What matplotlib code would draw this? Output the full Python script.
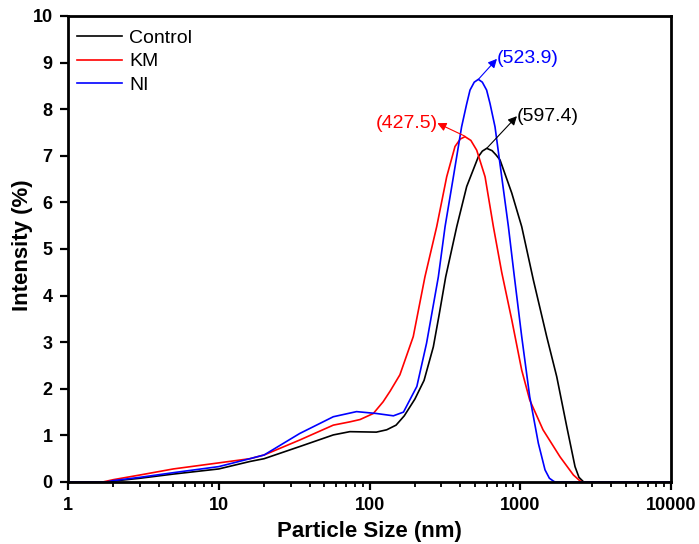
"""Particle size distribution (DLS intensity) for Control, KM and NI samples."""

import matplotlib

matplotlib.use("Agg")
import matplotlib.pyplot as plt

# Values (size in nm, intensity in %)
control_size = [1, 1.9, 2, 3, 5, 10, 16.1, 20, 34.4, 57.5, 74, 111, 130, 150, 170, 200, 230, 265,
                290, 320, 379, 441, 527, 560, 599, 650, 690, 734, 878, 1022, 1222, 1497, 1745,
                2033, 2307, 2450, 2633, 10000]
control_intensity = [0, 0, 0.02, 0.08, 0.17, 0.28, 0.44, 0.5, 0.76, 1.01, 1.08, 1.07, 1.12, 1.22,
                     1.42, 1.78, 2.18, 2.9, 3.6, 4.4, 5.48, 6.34, 6.98, 7.1, 7.16, 7.11, 7.02, 6.91,
                     6.2, 5.48, 4.33, 3.12, 2.26, 1.19, 0.33, 0.1, 0, 0]

km_size = [1, 1.7, 2, 3, 5, 10, 16.1, 20, 34.4, 57.5, 74, 86.5, 106, 123, 137, 159, 195, 233,
           279, 325, 369, 400, 430, 470, 514, 584, 663, 753, 878, 1022, 1155, 1415, 1835, 2251,
           2496, 2600, 10000]
km_intensity = [0, 0, 0.05, 0.15, 0.28, 0.41, 0.5, 0.58, 0.9, 1.22, 1.29, 1.34, 1.47, 1.72, 1.95,
                2.3, 3.12, 4.4, 5.48, 6.55, 7.2, 7.36, 7.41, 7.33, 7.12, 6.55, 5.48, 4.5, 3.48,
                2.4, 1.76, 1.12, 0.54, 0.15, 0.02, 0, 0]

ni_size = [1, 1.8, 2, 3, 5, 10, 16.1, 20, 34.4, 57.5, 82, 111, 144, 168, 206, 239, 286, 317, 360,
           408, 440, 464, 495, 527, 560, 598, 630, 680, 753, 834, 910, 1022, 1155, 1318, 1459,
           1560, 1657, 1700, 10000]
ni_intensity = [0, 0, 0.03, 0.1, 0.2, 0.33, 0.5, 0.58, 1.04, 1.4, 1.51, 1.47, 1.42, 1.5, 2.05,
                2.98, 4.4, 5.48, 6.55, 7.62, 8.1, 8.41, 8.58, 8.64, 8.58, 8.41, 8.12, 7.62, 6.55,
                5.48, 4.45, 3.12, 1.83, 0.83, 0.26, 0.08, 0.02, 0, 0]

# peak labels: text, peak point, arrow head / text anchor, colour, alignment
peak_labels = [
    ("(597.4)", (599, 7.16), (950, 7.85), "black", "left"),
    ("(427.5)", (430, 7.42), (282, 7.7), "red", "right"),
    ("(523.9)", (527, 8.64), (700, 9.08), "blue", "left"),
]

x_major = [1, 10, 100, 1000, 10000]
x_minor = [m * d for d in x_major[:-1] for m in range(2, 10)]

plt.rcParams["font.family"] = ["Liberation Sans", "DejaVu Sans"]

figure = plt.figure(figsize=(6.99, 5.44), dpi=100)
axis = figure.add_axes([0.0973, 0.114, 0.8627, 0.8566])

axis.plot(control_size, control_intensity, color="black", linewidth=1.2, label="Control")
axis.plot(km_size, km_intensity, color="red", linewidth=1.2, label="KM")
axis.plot(ni_size, ni_intensity, color="blue", linewidth=1.2, label="NI")

for text, peak, anchor, color, align in peak_labels:
    axis.annotate("", xy=anchor, xytext=peak,
                  arrowprops=dict(arrowstyle="-|>", color=color, lw=0.8, mutation_scale=13,
                                  shrinkA=0, shrinkB=0))
    axis.text(anchor[0], anchor[1], text, color=color, fontsize=14, ha=align, va="center")

axis.set_xscale("log")
axis.set_xlim(1, 10000)
axis.set_ylim(0, 10)
axis.set_yticks(range(0, 11))
axis.set_xticks(x_major)
axis.set_xticklabels([str(v) for v in x_major])
axis.set_xticks(x_minor, minor=True)
axis.set_xticklabels([], minor=True)
axis.tick_params(axis="both", which="major", direction="out", length=6, width=1.6,
                 labelsize=13, pad=5, top=False, right=False)
axis.tick_params(axis="x", which="minor", direction="out", length=3.5, width=1.3,
                 bottom=True, top=False, color="black")
for label in axis.get_xticklabels() + axis.get_yticklabels():
    label.set_fontweight("bold")
for spine in axis.spines.values():
    spine.set_linewidth(2)

axis.set_xlabel("Particle Size (nm)", fontsize=16, fontweight="bold")
axis.set_ylabel("Intensity (%)", fontsize=16, fontweight="bold", va="center")
axis.xaxis.set_label_coords(0.5, -0.083)
axis.yaxis.set_label_coords(-0.075, 0.509)
axis.legend(loc="upper left", bbox_to_anchor=(0, 0.99), frameon=False, fontsize=14,
            handlelength=2.35, labelspacing=0.3, borderaxespad=0.05, handletextpad=0.35)

figure.savefig("out.png", dpi=100)
